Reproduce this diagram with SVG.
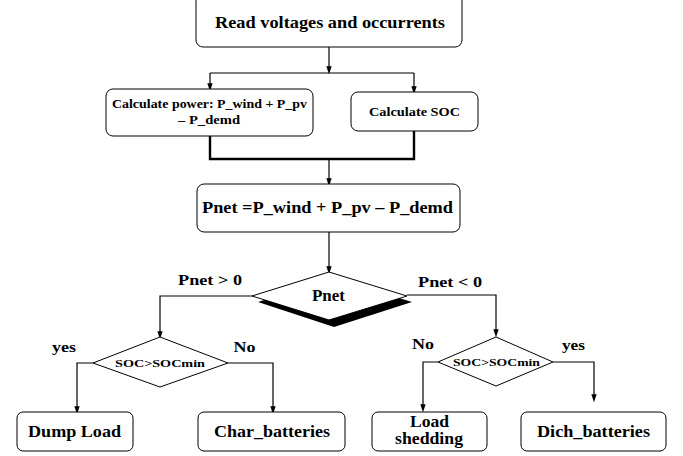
<svg xmlns="http://www.w3.org/2000/svg" width="683" height="456" viewBox="0 0 683 456">
<style>
.box{fill:#fff;stroke:#000;stroke-width:1}
.dia{fill:#fff;stroke:#000;stroke-width:1}
text{font-family:'Liberation Serif','Times New Roman',serif;font-weight:700;fill:#000;text-anchor:middle}
.c{fill:none;stroke:#000;stroke-width:1.2}
.thick{fill:none;stroke:#000;stroke-width:2.4}
</style>
<defs>
<marker id="ah" markerWidth="8" markerHeight="12" refX="7" refY="4" orient="auto" markerUnits="userSpaceOnUse" viewBox="0 0 12 8">
<path d="M0,0 L12,4 L0,8 z" fill="#000"/>
</marker>
</defs>
<rect width="683" height="456" fill="#fff"/>
<g id="connectors">
<path class="c" d="M329,47 V71" marker-end="url(#ah)"/>
<path class="c" d="M210,73 H414"/>
<path class="c" d="M210,73 V88" marker-end="url(#ah)"/>
<path class="c" d="M414,73 V91" marker-end="url(#ah)"/>
<path class="thick" d="M210,136 V159 H414 V131"/>
<path class="c" d="M329,159 V183" marker-end="url(#ah)"/>
<path class="c" d="M329,232 V271" marker-end="url(#ah)"/>
<path class="c" d="M252,296 H160 V336" marker-end="url(#ah)"/>
<path class="c" d="M407,295 H496 V334" marker-end="url(#ah)"/>
<path class="c" d="M93,363 H77 V411" marker-end="url(#ah)"/>
<path class="c" d="M228,363 H273 V411" marker-end="url(#ah)"/>
<path class="c" d="M438,362 H423 V409" marker-end="url(#ah)"/>
<path class="c" d="M553,362 H594 V399" marker-end="url(#ah)"/>
</g>
<g id="read">
<rect class="box" x="196" y="-6" width="266" height="53" rx="7"/>
<text x="330" y="28" font-size="17.5" textLength="230" lengthAdjust="spacingAndGlyphs">Read voltages and occurrents</text>
</g>
<g id="calcpower">
<rect class="box" x="106" y="89" width="207" height="47" rx="7"/>
<text x="209.5" y="108" font-size="12.5" textLength="195" lengthAdjust="spacingAndGlyphs">Calculate power: P_wind + P_pv</text>
<text x="209" y="124" font-size="12.5" textLength="62" lengthAdjust="spacingAndGlyphs">– P_demd</text>
</g>
<g id="calcsoc">
<rect class="box" x="351" y="92" width="127" height="39" rx="7"/>
<text x="414.5" y="116" font-size="12.5" textLength="91" lengthAdjust="spacingAndGlyphs">Calculate SOC</text>
</g>
<g id="pnetbox">
<rect class="box" x="197" y="184" width="263" height="48" rx="7"/>
<text x="327.5" y="213" font-size="16" textLength="251" lengthAdjust="spacingAndGlyphs">Pnet =P_wind + P_pv – P_demd</text>
</g>
<g id="pnetdia">
<path d="M258,302 L334,278 L412,302 L334,327 z" fill="#000"/>
<path class="dia" d="M252,296 L329,272 L407,296 L329,320 z"/>
<text x="328.5" y="301" font-size="16" textLength="33" lengthAdjust="spacingAndGlyphs">Pnet</text>
</g>
<g id="labels">
<text x="210" y="285" font-size="14.5" textLength="64" lengthAdjust="spacingAndGlyphs">Pnet &gt; 0</text>
<text x="450" y="287" font-size="14.5" textLength="64" lengthAdjust="spacingAndGlyphs">Pnet &lt; 0</text>
<text x="64" y="352" font-size="14.5" textLength="24" lengthAdjust="spacingAndGlyphs">yes</text>
<text x="244.5" y="352" font-size="14.5" textLength="22" lengthAdjust="spacingAndGlyphs">No</text>
<text x="423" y="349" font-size="14.5" textLength="22" lengthAdjust="spacingAndGlyphs">No</text>
<text x="573.5" y="350" font-size="14.5" textLength="23" lengthAdjust="spacingAndGlyphs">yes</text>
</g>
<g id="soc1">
<path class="dia" d="M93,363 L160,337 L228,363 L160,387 z"/>
<text x="160" y="367" font-size="10" textLength="90" lengthAdjust="spacingAndGlyphs">SOC&gt;SOCmin</text>
</g>
<g id="soc2">
<path class="dia" d="M438,362 L496,337 L553,362 L496,386 z"/>
<text x="496.5" y="366" font-size="10" textLength="87" lengthAdjust="spacingAndGlyphs">SOC&gt;SOCmin</text>
</g>
<g id="dump">
<rect class="box" x="17" y="412" width="116" height="39" rx="6"/>
<text x="74.5" y="437" font-size="16" textLength="93" lengthAdjust="spacingAndGlyphs">Dump Load</text>
</g>
<g id="char">
<rect class="box" x="198" y="412" width="147" height="39" rx="6"/>
<text x="272" y="437" font-size="16" textLength="116" lengthAdjust="spacingAndGlyphs">Char_batteries</text>
</g>
<g id="shed">
<rect class="box" x="372" y="412" width="115" height="39" rx="6"/>
<text x="429.5" y="427" font-size="16" textLength="39" lengthAdjust="spacingAndGlyphs">Load</text>
<text x="429" y="444" font-size="16" textLength="68" lengthAdjust="spacingAndGlyphs">shedding</text>
</g>
<g id="dich">
<rect class="box" x="521" y="412" width="145" height="39" rx="6"/>
<text x="593.5" y="437" font-size="16" textLength="113" lengthAdjust="spacingAndGlyphs">Dich_batteries</text>
</g>
</svg>
